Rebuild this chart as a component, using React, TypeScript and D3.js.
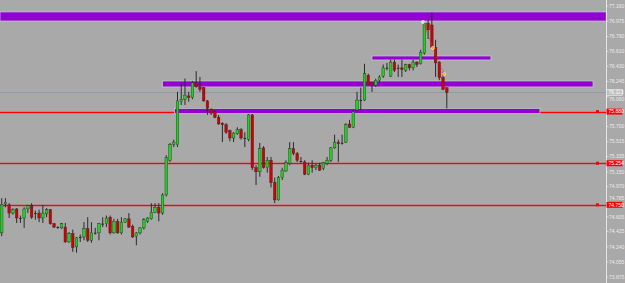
import React from 'react';
import * as d3 from 'd3';

const W = 625;
const H = 283;
const PLOT_RIGHT = 606.5;

const opens = [74.41,74.76,74.75,74.65,74.70,74.59,74.59,74.70,74.74,74.65,74.65,74.59,74.64,74.69,74.52,74.48,74.47,74.48,74.30,74.40,74.24,74.36,74.36,74.46,74.32,74.41,74.41,74.52,74.52,74.60,74.41,74.55,74.41,74.54,74.58,74.49,74.37,74.41,74.47,74.55,74.58,74.66,74.72,74.65,74.87,75.29,75.48,75.48,76.00,76.03,76.07,76.05,76.23,76.18,76.17,76.01,75.91,75.88,75.81,75.74,75.72,75.65,75.56,75.61,75.66,75.56,75.54,75.84,75.20,75.15,75.44,75.20,75.29,75.02,74.81,75.08,75.16,75.25,75.43,75.37,75.28,75.27,75.12,75.23,75.20,75.23,75.19,75.25,75.29,75.44,75.51,75.50,75.51,75.73,75.69,75.90,76.02,76.02,76.32,76.23,76.20,76.26,76.31,76.41,76.31,76.48,76.41,76.41,76.38,76.45,76.41,76.48,76.46,76.59,76.95,76.93,76.66,76.48,76.29,76.17];
const highs = [74.83,74.83,74.77,74.71,74.71,74.62,74.72,74.75,74.77,74.68,74.69,74.75,74.71,74.70,74.53,74.49,74.53,74.53,74.42,74.45,74.36,74.39,74.54,74.60,74.54,74.47,74.53,74.60,74.62,74.62,74.58,74.58,74.60,74.59,74.65,74.51,74.42,74.48,74.59,74.60,74.77,74.77,74.77,74.89,75.35,75.50,75.54,76.12,76.23,76.28,76.12,76.25,76.37,76.30,76.18,76.02,75.92,75.90,75.84,75.75,75.74,75.66,75.63,75.69,75.68,75.63,75.85,75.85,75.23,75.50,75.46,75.33,75.33,75.08,75.10,75.20,75.29,75.51,75.51,75.39,75.33,75.29,75.26,75.29,75.25,75.26,75.27,75.33,75.45,75.60,75.54,75.60,75.74,75.78,75.90,76.12,76.17,76.46,76.34,76.24,76.28,76.32,76.45,76.47,76.51,76.51,76.45,76.51,76.46,76.46,76.51,76.49,76.63,76.97,76.99,77.08,76.75,76.49,76.36,76.17];
const lows = [74.37,74.72,74.59,74.63,74.53,74.53,74.47,74.65,74.58,74.57,74.54,74.53,74.60,74.51,74.47,74.46,74.46,74.29,74.29,74.18,74.17,74.30,74.32,74.30,74.29,74.39,74.32,74.48,74.48,74.39,74.40,74.40,74.39,74.53,74.47,74.35,74.26,74.39,74.45,74.53,74.57,74.65,74.55,74.63,74.85,75.27,75.45,75.45,75.96,75.96,76.00,76.03,76.17,76.12,76.00,75.84,75.84,75.80,75.72,75.51,75.61,75.52,75.51,75.60,75.54,75.45,75.52,75.17,74.99,75.09,75.19,75.14,74.96,74.77,74.80,75.05,75.15,75.23,75.35,75.27,75.26,75.11,75.11,75.14,75.17,75.16,75.17,75.23,75.27,75.43,75.27,75.48,75.50,75.68,75.68,75.88,75.90,76.01,76.20,76.12,76.18,76.23,76.29,76.38,76.30,76.36,76.30,76.30,76.36,76.38,76.38,76.42,76.45,76.57,76.76,76.65,76.30,76.26,76.14,75.92];
const closes = [74.75,74.78,74.65,74.69,74.59,74.58,74.70,74.74,74.60,74.64,74.59,74.65,74.69,74.52,74.48,74.47,74.52,74.30,74.40,74.23,74.35,74.35,74.46,74.32,74.41,74.40,74.52,74.51,74.59,74.41,74.55,74.41,74.54,74.58,74.48,74.36,74.41,74.47,74.57,74.59,74.66,74.72,74.65,74.87,75.32,75.48,75.51,76.01,76.03,76.08,76.05,76.23,76.18,76.15,76.01,75.92,75.86,75.81,75.73,75.72,75.63,75.56,75.62,75.66,75.56,75.55,75.84,75.20,75.15,75.43,75.20,75.29,75.02,74.81,75.08,75.17,75.26,75.43,75.37,75.29,75.27,75.12,75.23,75.20,75.23,75.17,75.26,75.29,75.44,75.51,75.49,75.49,75.72,75.69,75.88,76.02,76.01,76.34,76.21,76.20,76.26,76.30,76.41,76.40,76.48,76.38,76.40,76.39,76.45,76.41,76.48,76.45,76.60,76.95,76.87,76.66,76.47,76.29,76.15,76.113];

const tickLabels = ['77.160','76.975','76.790','76.610','76.430','76.245','76.060','75.880','75.700','75.515','75.335','75.150','74.970','74.785','74.605','74.425','74.240','74.055','73.875'];

const levelPrices = [75.880, 75.254, 74.750];
const levelLabels = ['75.880', '75.254', '74.750'];

const zoneTops = [77.088, 76.554, 76.251, 75.918];
const zoneBottoms = [76.978, 76.506, 76.179, 75.857];
const zoneStarts = [-1, 99.0, 43.0, 46.2];
const zoneEnds = [161.6, 130.8, 158.1, 143.9];

const bidPrice = 76.113;
const bidLabel = '76.113';

const tradeIdx = [112.65, 115.3, 118.3];
const tradePrices = [76.966, 76.651, 76.336];

const y = d3.scaleLinear().domain([73.875, 77.16]).range([277, 6]);
const x = d3.scaleLinear().domain([0, 119]).range([1.7, 446.8]);

const BG = '#a9a9a9';
const GREEN = '#1fd21f';
const RED = '#d00000';
const WICK = '#2a2a2a';
const PURPLE = '#9400d3';

export default function App() {
  const bw = 2.6;
  const tradeLine = d3.line<number>().x((d, i) => x(tradeIdx[i])).y((d) => y(d));
  const boxYs = [bidPrice, ...levelPrices].map((p) => y(p));
  const boxTexts = [bidLabel, ...levelLabels];
  return (
    <svg width={W} height={H} style={{ position: 'absolute', left: 0, top: 0, display: 'block' }}
      fontFamily="'Liberation Sans', Arial, sans-serif">
      <rect x={0} y={0} width={W} height={H} fill={BG} />
      <defs>
        <clipPath id="plot"><rect x={0} y={0} width={PLOT_RIGHT} height={H} /></clipPath>
      </defs>
      <g clipPath="url(#plot)">
        <line x1={0} x2={PLOT_RIGHT} y1={Math.round(y(bidPrice)) + 0.5} y2={Math.round(y(bidPrice)) + 0.5} stroke="#8d9bab" strokeWidth={1} />
        {levelPrices.map((p, i) => (
          <rect key={'l' + i} x={0} width={PLOT_RIGHT} y={Math.round(y(p)) - 0.2} height={1.4} fill="#ff0000" />
        ))}
        {zoneTops.map((t, i) => {
          const x0 = Math.max(0, x(zoneStarts[i]));
          const x1 = Math.min(PLOT_RIGHT, x(zoneEnds[i]));
          return (
            <rect key={'z' + i} x={x0} y={y(t)} width={x1 - x0} height={y(zoneBottoms[i]) - y(t)}
              fill={PURPLE} stroke="#b9dcb9" strokeWidth={0.7} />
          );
        })}
        {opens.map((o, i) => {
          const c = closes[i];
          const cx = x(i);
          const top = y(Math.max(o, c));
          const bot = y(Math.min(o, c));
          const up = c > o;
          const doji = Math.abs(c - o) < 0.015;
          return (
            <g key={'c' + i}>
              <line x1={cx} x2={cx} y1={y(highs[i])} y2={y(lows[i])} stroke={WICK} strokeWidth={1} />
              {doji ? (
                <line x1={cx - bw / 2} x2={cx + bw / 2} y1={(top + bot) / 2} y2={(top + bot) / 2} stroke={WICK} strokeWidth={1} />
              ) : (
                <rect x={cx - bw / 2} y={top} width={bw} height={Math.max(1, bot - top)}
                  fill={up ? GREEN : RED} stroke={WICK} strokeWidth={0.4} />
              )}
            </g>
          );
        })}
        <path d={tradeLine(tradePrices) || ''} fill="none" stroke="#ff2020" strokeWidth={1} strokeDasharray="1,1.5" />
        {tradePrices.map((p, i) => (
          <circle key={'t' + i} cx={x(tradeIdx[i])} cy={y(p)} r={1.6} fill={i === 0 ? '#ffd0d0' : '#ffa500'} stroke="#ffffff" strokeWidth={0.5} />
        ))}
      </g>
      <line x1={PLOT_RIGHT} x2={PLOT_RIGHT} y1={0} y2={H} stroke="#e6e6e6" strokeWidth={1} />
      {tickLabels.map((t) => {
        const ty = y(+t);
        if (boxTexts.includes(t)) return null;
        let ly = ty;
        boxYs.forEach((by) => {
          if (Math.abs(ly - by) < 6.5) ly = ly < by ? by - 6.5 : by + 6.5;
        });
        return (
          <g key={'tk' + t}>
            <line x1={PLOT_RIGHT} x2={PLOT_RIGHT + 2} y1={ty} y2={ty} stroke="#e6e6e6" strokeWidth={0.8} />
            <text x={609} y={ly} dy="0.35em" fontSize={5} fill="#ececec">{t}</text>
          </g>
        );
      })}
      <rect x={PLOT_RIGHT} y={y(bidPrice) - 3} width={16} height={6} fill="#bdbdbd" stroke="#f2f2f2" strokeWidth={0.6} />
      <text x={608.5} y={y(bidPrice)} dy="0.35em" fontSize={5} fill="#ffffff">{bidLabel}</text>
      {levelPrices.map((p, i) => (
        <g key={'lb' + i}>
          <rect x={596} y={y(p) - 1.5} width={3} height={3} fill="#ff0000" />
          <rect x={PLOT_RIGHT} y={y(p) - 3} width={16} height={6} fill="#ff0000" />
          <text x={608.5} y={y(p)} dy="0.35em" fontSize={5} fill="#ffffff">{levelLabels[i]}</text>
        </g>
      ))}
    </svg>
  );
}
